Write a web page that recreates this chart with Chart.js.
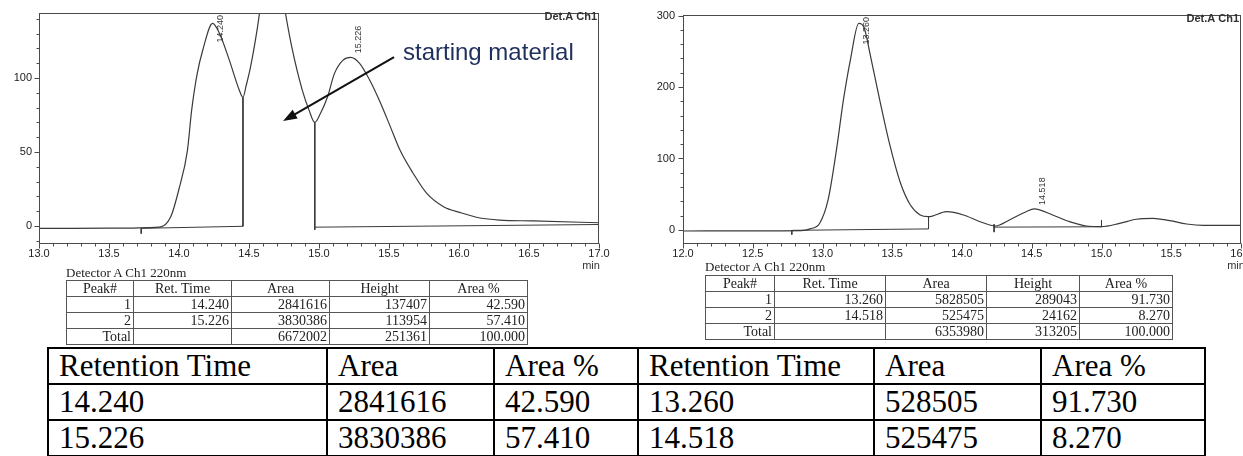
<!DOCTYPE html>
<html>
<head>
<title>HPLC chromatograms</title>
<script src="https://cdn.jsdelivr.net/npm/chart.js"></script>
<style>
  body { margin: 0; background: #fff; }
  #page { position: relative; width: 1243px; height: 456px; overflow: hidden; }
  canvas { position: absolute; top: 0; }
  #left { left: 0; }
  #right { left: 630px; }
  .det { position: absolute; font: 13px 'Liberation Serif', serif; color: #222; white-space: nowrap; }
  .peaks { position: absolute; border-collapse: collapse; table-layout: fixed; font: 14px 'Liberation Serif', serif; color: #222; }
  .peaks td { border: 1px solid #555; padding: 0 2px; height: 15px; line-height: 15px; text-align: right; white-space: nowrap; overflow: hidden; }
  .peaks tr:first-child td { text-align: center; }
  #summary { position: absolute; left: 47px; top: 347px; border-collapse: collapse; table-layout: fixed; font: 31px 'Liberation Serif', serif; color: #000; }
  #summary td { border: 2px solid #000; padding: 0 0 0 10px; height: 34px; line-height: 34px; white-space: nowrap; overflow: hidden; }
</style>
</head>
<body>
<div id="page">
  <canvas id="left" width="625" height="275"></canvas>
  <canvas id="right" width="613" height="275"></canvas>
  <div class="det" style="left:66px; top:265px">Detector A Ch1 220nm</div>
  <table class="peaks" id="peaksLeft" style="left:66px; top:280px"></table>
  <div class="det" style="left:705px; top:259px">Detector A Ch1 220nm</div>
  <table class="peaks" id="peaksRight" style="left:705px; top:275px"></table>
  <table id="summary"></table>
</div>

<script>
// ---- run 1 (with starting material) ----
const leftTime = [13.0, 13.5, 13.86, 13.94, 14.0, 14.06, 14.09, 14.13, 14.17, 14.24, 14.29, 14.36, 14.43, 14.457,
  14.48, 14.51, 14.56, 14.6, 14.67, 14.72, 14.76, 14.81, 14.88, 14.93, 14.97, 15.01, 15.06, 15.11, 15.17, 15.226,
  15.29, 15.36, 15.44, 15.51, 15.58, 15.67, 15.77, 15.89, 16.01, 16.15, 16.29, 16.53, 17.0];
const leftSignal = [-1.6, -1.5, -0.8, 6, 25, 51, 78, 103, 119, 137, 130, 112, 92, 87,
  95, 107, 134, 160, 182, 168, 144, 119, 92, 78, 70, 76, 87, 103, 112, 114,
  110, 99, 83, 67, 51, 36, 22, 13, 9, 5.4, 4, 3.4, 2.2];
// integration baselines [t0, v0, t1, v1] and vertical marks [t, vTop, vBottom]
const leftBaselines = [[13.73, -1.6, 14.457, -0.2], [14.97, -0.8, 17.0, 1.0]];
const leftMarks = [[14.457, 87, -0.2], [14.97, 70, -2.6], [13.73, -1.6, -5.2]];
const leftXLabels = ['13.0', '13.5', '14.0', '14.5', '15.0', '15.5', '16.0', '16.5', '17.0'];
const leftYLabels = ['0', '50', '100'];

// ---- run 2 (product) ----
const rightTime = [12.0, 12.5, 12.85, 12.91, 12.98, 13.04, 13.10, 13.15, 13.20, 13.26, 13.30, 13.34, 13.41, 13.48,
  13.56, 13.63, 13.70, 13.76, 13.89, 14.01, 14.13, 14.24, 14.34, 14.46, 14.518, 14.65, 14.77, 14.89, 15.0,
  15.13, 15.25, 15.37, 15.49, 15.61, 15.73, 16.0];
const rightSignal = [-1.4, -1.2, -0.8, 1.5, 9.5, 42, 112, 182, 238, 289, 282, 247, 182, 121,
  65, 35, 21, 18.6, 25.6, 21, 11.6, 5.6, 14, 25.6, 29.5, 21, 11.6, 5.6, 4.7,
  9.3, 15, 16.3, 13, 8.4, 6.5, 6.5];
const rightBaselines = [[12.78, -0.5, 13.76, 1.5], [14.23, 4, 15.0, 4.5]];
const rightMarks = [[13.76, 18.6, 1.5], [12.78, -0.5, -6.5], [14.23, 8, -3], [15.0, 14, 4.5]];
const rightXLabels = ['12.0', '12.5', '13.0', '13.5', '14.0', '14.5', '15.0', '15.5', '16.0'];
const rightYLabels = ['0', '100', '200', '300'];

// ---- peak tables ----
const tableHeader = ['Peak#', 'Ret. Time', 'Area', 'Height', 'Area %'];
const leftPeakNo = ['1', '2'];
const leftRetTime = ['14.240', '15.226'];
const leftArea = ['2841616', '3830386'];
const leftHeight = ['137407', '113954'];
const leftAreaPct = ['42.590', '57.410'];
const leftTotal = ['6672002', '251361', '100.000'];

const rightPeakNo = ['1', '2'];
const rightRetTime = ['13.260', '14.518'];
const rightArea = ['5828505', '525475'];
const rightHeight = ['289043', '24162'];
const rightAreaPct = ['91.730', '8.270'];
const rightTotal = ['6353980', '313205', '100.000'];

const summaryHeader = ['Retention Time', 'Area', 'Area %', 'Retention Time', 'Area', 'Area %'];
const summaryRow1 = ['14.240', '2841616', '42.590', '13.260', '528505', '91.730'];
const summaryRow2 = ['15.226', '3830386', '57.410', '14.518', '525475', '8.270'];

function fillTable(id, widths, rows) {
  const t = document.getElementById(id);
  t.style.width = widths.reduce((a, b) => a + b, 0) + 'px';
  t.innerHTML = '<colgroup>' + widths.map(w => `<col style="width:${w}px">`).join('') + '</colgroup>' +
    rows.map(r => '<tr>' + r.map(c => `<td>${c}</td>`).join('') + '</tr>').join('');
}

function peakRows(no, rt, area, height, pct, total) {
  const rows = [tableHeader];
  no.forEach((n, i) => rows.push([n, rt[i], area[i], height[i], pct[i]]));
  rows.push(['Total', ''].concat(total));
  return rows;
}

fillTable('peaksLeft', [67, 98, 98, 100, 98],
  peakRows(leftPeakNo, leftRetTime, leftArea, leftHeight, leftAreaPct, leftTotal));
fillTable('peaksRight', [69, 111, 101, 93, 93],
  peakRows(rightPeakNo, rightRetTime, rightArea, rightHeight, rightAreaPct, rightTotal));
fillTable('summary', [279, 167, 144, 236, 167, 164], [summaryHeader, summaryRow1, summaryRow2]);

// ---- drawing helpers ----
function toPoints(ts, vs) {
  return ts.map((t, i) => ({ x: t, y: vs[i] }));
}

function segmentPoints(baselines, marks) {
  const pts = [];
  baselines.forEach(b => {
    pts.push({ x: b[0], y: b[1] }, { x: b[2], y: b[3] }, { x: b[2], y: null });
  });
  marks.forEach(m => {
    pts.push({ x: m[0], y: m[1] }, { x: m[0], y: m[2] }, { x: m[0], y: null });
  });
  return pts;
}

function labelFor(labels) {
  return v => {
    const hit = labels.find(l => Math.abs(parseFloat(l) - v) < 1e-6);
    return hit === undefined ? '' : hit;
  };
}

// frame, tick marks, peak labels, detector tag and annotation
const chromPlugin = {
  id: 'chrom',
  afterDraw(chart, args, opts) {
    const { ctx, chartArea: a, scales: { x, y } } = chart;
    ctx.save();
    ctx.strokeStyle = '#4a4a4a';
    ctx.lineWidth = 1;
    const L = Math.round(a.left) + 0.5, R = Math.round(a.right) - 0.5;
    const T = Math.round(a.top) + 0.5, B = Math.round(a.bottom) + 0.5;
    ctx.strokeRect(L, T, R - L, B - T);

    ctx.beginPath();
    x.ticks.forEach(t => {
      const px = Math.round(x.getPixelForValue(t.value)) + 0.5;
      const len = t.label ? 5 : 3;
      ctx.moveTo(px, B); ctx.lineTo(px, B + len);
    });
    y.ticks.forEach(t => {
      const py = Math.round(y.getPixelForValue(t.value)) + 0.5;
      const len = t.label ? 5 : 3;
      ctx.moveTo(L, py); ctx.lineTo(L - len, py);
    });
    ctx.stroke();

    ctx.fillStyle = '#333';
    ctx.font = '11px "Liberation Sans", Arial, sans-serif';
    ctx.textAlign = 'center';
    ctx.textBaseline = 'middle';
    ctx.fillText('min', a.right - opts.minShift, a.bottom + 23);

    ctx.font = 'bold 11px "Liberation Sans", Arial, sans-serif';
    ctx.textAlign = 'right';
    ctx.fillText('Det.A Ch1', a.right - 2, a.top + 4);

    // retention-time labels above each peak
    const data = chart.data.datasets[0].data;
    ctx.font = '9px "Liberation Sans", Arial, sans-serif';
    ctx.textAlign = 'left';
    opts.peaks.forEach(lbl => {
      const rt = parseFloat(lbl);
      let best = data[0];
      data.forEach(p => { if (Math.abs(p.x - rt) < Math.abs(best.x - rt)) best = p; });
      const px = x.getPixelForValue(rt) + 8;
      const w = ctx.measureText(lbl).width;
      const bottom = Math.max(y.getPixelForValue(best.y) - 4, a.top + 2 + w);
      ctx.save();
      ctx.translate(px, bottom);
      ctx.rotate(-Math.PI / 2);
      ctx.fillText(lbl, 0, 0);
      ctx.restore();
    });

    if (opts.note) {
      const n = opts.note;
      ctx.fillStyle = '#1f2f5c';
      ctx.font = '24px "Liberation Sans", Arial, sans-serif';
      ctx.textAlign = 'left';
      ctx.textBaseline = 'alphabetic';
      ctx.fillText(n.text, x.getPixelForValue(n.at[0]), y.getPixelForValue(n.at[1]));

      const x0 = x.getPixelForValue(n.from[0]), y0 = y.getPixelForValue(n.from[1]);
      const x1 = x.getPixelForValue(n.to[0]), y1 = y.getPixelForValue(n.to[1]);
      const ang = Math.atan2(y1 - y0, x1 - x0);
      ctx.strokeStyle = '#111';
      ctx.fillStyle = '#111';
      ctx.lineWidth = 2;
      ctx.beginPath();
      ctx.moveTo(x0, y0);
      ctx.lineTo(x1 - 10 * Math.cos(ang), y1 - 10 * Math.sin(ang));
      ctx.stroke();
      ctx.beginPath();
      ctx.moveTo(x1, y1);
      ctx.lineTo(x1 - 14 * Math.cos(ang) + 5 * Math.sin(ang), y1 - 14 * Math.sin(ang) - 5 * Math.cos(ang));
      ctx.lineTo(x1 - 14 * Math.cos(ang) - 5 * Math.sin(ang), y1 - 14 * Math.sin(ang) + 5 * Math.cos(ang));
      ctx.closePath();
      ctx.fill();
    }
    ctx.restore();
  }
};

function makeChart(id, cfg) {
  return new Chart(document.getElementById(id), {
    type: 'scatter',
    data: {
      datasets: [{
        data: toPoints(cfg.time, cfg.signal),
        showLine: true,
        borderColor: '#3a3a3a',
        borderWidth: 1.2,
        pointRadius: 0,
        cubicInterpolationMode: 'monotone'
      }, {
        data: segmentPoints(cfg.baselines, cfg.marks),
        showLine: true,
        spanGaps: false,
        borderColor: '#3a3a3a',
        borderWidth: 1,
        pointRadius: 0
      }]
    },
    options: {
      responsive: false,
      animation: false,
      devicePixelRatio: 1,
      layout: { padding: cfg.padding },
      plugins: {
        legend: { display: false },
        tooltip: { enabled: false },
        chrom: { peaks: cfg.peaks, note: cfg.note, minShift: cfg.minShift }
      },
      scales: {
        x: {
          type: 'linear',
          min: cfg.xMin, max: cfg.xMax,
          grid: { display: false, drawTicks: false },
          border: { display: false },
          ticks: {
            stepSize: 0.1, autoSkip: false, maxRotation: 0, includeBounds: false, padding: 4,
            color: '#222', font: { family: 'Liberation Sans', size: 11 },
            callback: labelFor(cfg.xLabels)
          },
          afterFit: s => { s.height = 27; s.paddingLeft = 0; s.paddingRight = 0; }
        },
        y: {
          min: cfg.yMin, max: cfg.yMax,
          grid: { display: false, drawTicks: false },
          border: { display: false },
          ticks: {
            stepSize: cfg.yStep, autoSkip: false, includeBounds: false, padding: cfg.yPad,
            color: '#222', font: { family: 'Liberation Sans', size: 11 },
            callback: labelFor(cfg.yLabels)
          },
          afterFit: s => { s.width = cfg.yWidth; s.paddingTop = 0; s.paddingBottom = 0; }
        }
      }
    },
    plugins: [chromPlugin]
  });
}

makeChart('left', {
  time: leftTime, signal: leftSignal, baselines: leftBaselines, marks: leftMarks,
  xMin: 13.0, xMax: 17.0, yMin: -11.5, yMax: 144, yStep: 10,
  xLabels: leftXLabels, yLabels: leftYLabels, yWidth: 39, yPad: 7,
  padding: { left: 0, top: 13, right: 26, bottom: 5 },
  peaks: leftRetTime, minShift: 8,
  note: { text: 'starting material', at: [15.6, 112], from: [15.536, 114.2], to: [14.743, 70.9] }
});

makeChart('right', {
  time: rightTime, signal: rightSignal, baselines: rightBaselines, marks: rightMarks,
  xMin: 12.0, xMax: 16.0, yMin: -18.2, yMax: 300.7, yStep: 20,
  xLabels: rightXLabels, yLabels: rightYLabels, yWidth: 53, yPad: 8,
  padding: { left: 0, top: 15, right: 2, bottom: 5 },
  peaks: rightRetTime, minShift: 5,
  note: null
});
</script>
</body>
</html>
